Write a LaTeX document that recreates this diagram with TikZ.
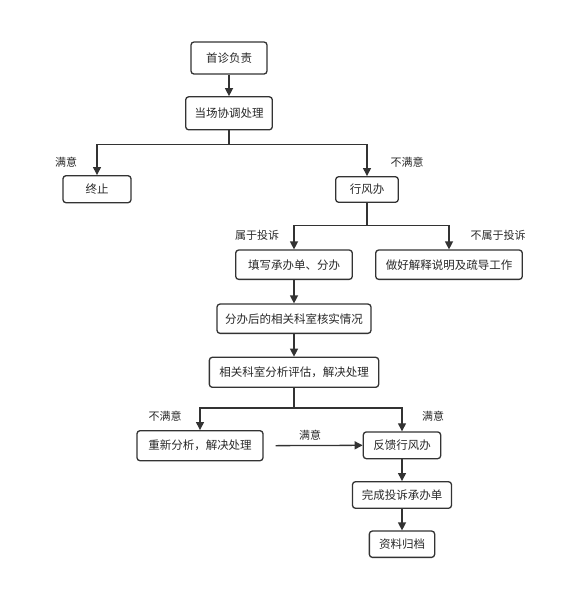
\documentclass[tikz,border=0pt]{standalone}
\usepackage{fontspec}
\setmainfont{Noto Sans CJK SC}
\usetikzlibrary{arrows.meta}
\definecolor{ln}{RGB}{51,51,51}
\definecolor{tx}{RGB}{40,40,40}
\tikzset{
  box/.style={draw=ln, line width=1.3pt, rounded corners=3pt, fill=white,
    text=tx, inner sep=0pt, font=\fontsize{11.5pt}{13pt}\selectfont},
  arr/.style={draw=ln, line width=1.3pt, -{Triangle[length=8pt,width=8pt]}},
  lbl/.style={text=tx, inner sep=0pt, font=\fontsize{11pt}{13pt}\selectfont}
}
\begin{document}
\begin{tikzpicture}[x=1pt,y=-1pt]
\useasboundingbox (0,0) rectangle (564,590);
\node[box, minimum width=76pt, minimum height=32pt] (b1) at (229,58) {首诊负责};
\node[box, minimum width=86.6pt, minimum height=33pt] (b2) at (229,113.3) {当场协调处理};
\node[box, minimum width=68pt, minimum height=27pt] (b3) at (97,189.2) {终止};
\node[box, minimum width=62.6pt, minimum height=25.6pt] (b4) at (367,189.5) {行风办};
\node[box, minimum width=116.6pt, minimum height=29.3pt] (b5) at (294,264.7) {填写承办单、分办};
\node[box, minimum width=146.6pt, minimum height=29.3pt] (b6) at (449,264.7) {做好解释说明及疏导工作};
\node[box, minimum width=154pt, minimum height=29.3pt] (b7) at (294,318.7) {分办后的相关科室核实情况};
\node[box, minimum width=169.3pt, minimum height=30pt] (b8) at (294,372.3) {相关科室分析评估，解决处理};
\node[box, minimum width=126pt, minimum height=30pt] (b9) at (200,445.7) {重新分析，解决处理};
\node[box, minimum width=77.4pt, minimum height=26.7pt] (b10) at (402,445.3) {反馈行风办};
\node[box, minimum width=99pt, minimum height=26.6pt] (b11) at (402,495) {完成投诉承办单};
\node[box, minimum width=65.3pt, minimum height=26.3pt] (b12) at (402,544.2) {资料归档};

\draw[arr] (b1) -- (b2);
\draw[arr] (b2.south) -- ++(0,14.3) -| (b3.north);
\draw[arr] (b2.south) -- ++(0,14.3) -| (b4.north);
\draw[arr] (b4.south) -- ++(0,22.7) -| (b5.north);
\draw[arr] (b4.south) -- ++(0,22.7) -| (b6.north);
\draw[arr] (b5) -- (b7);
\draw[arr] (b7) -- (b8);
\draw[arr] (b8.south) -- ++(0,20) -| (b9.north);
\draw[arr] (b8.south) -- ++(0,20) -| (b10.north);
\draw[arr, shorten <=12pt] (b9.east) -- (b10.west);
\draw[arr] (b10) -- (b11);
\draw[arr] (b11) -- (b12);

\node[lbl] (l1) at (66,162.5) {满意};
\node[lbl] (l2) at (407,162.5) {不满意};
\node[lbl] (l3) at (257,235) {属于投诉};
\node[lbl] (l4) at (498,235) {不属于投诉};
\node[lbl] (l5) at (165,416) {不满意};
\node[lbl] (l6) at (433,416) {满意};
\node[lbl] (l7) at (310,435) {满意};
\end{tikzpicture}
\end{document}
